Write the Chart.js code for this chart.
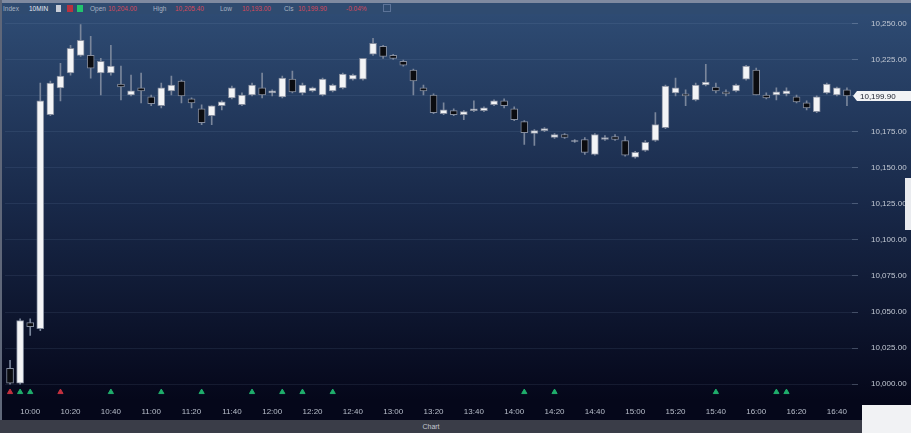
<!DOCTYPE html>
<html><head><meta charset="utf-8">
<script src="https://cdn.jsdelivr.net/npm/chart.js@4.4.1/dist/chart.umd.min.js"></script>
<style>
html,body{margin:0;padding:0;background:#060818;overflow:hidden}
#wrap{position:relative;width:911px;height:433px;font-family:"Liberation Sans","DejaVu Sans",sans-serif}
canvas{position:absolute;left:0;top:0}
.abs{position:absolute}
#topstrip{left:0;top:0;width:911px;height:3px;background:#7f8aa0}
#toolbar{left:0;top:3px;width:911px;height:11px;background:#2f4b70;font-size:6.5px;line-height:11px;white-space:nowrap}
#toolbar span{position:absolute;top:0}
.g{color:#a9b3c4}.w{color:#e6eaf0}.r{color:#d3485c}
#botbar{left:0;top:420px;width:862px;height:13px;background:#3a3d48;color:#c3c7d0;font-size:7px;line-height:13px;text-align:center}
#leftstrip{left:0;top:0;width:2px;height:420px;background:#5f6779}
#whitebox{left:862px;top:405px;width:49px;height:28px;background:#f1f2f4}
#tab{left:905px;top:178px;width:6px;height:52px;background:#e9ebef}
</style></head><body>
<div id="wrap">
<canvas id="c" width="911" height="433"></canvas>
<div class="abs" id="topstrip"></div>
<div class="abs" id="toolbar">
 <span class="g" style="left:3px">Index</span>
 <span class="w" style="left:29px">10MIN</span>
 <span style="left:56px;top:2px;width:5px;height:7px;background:#c9ced8"></span>
 <span style="left:67px;top:2px;width:6px;height:7px;background:#b8323f"></span>
 <span style="left:77px;top:2px;width:6px;height:7px;background:#22c46e"></span>
 <span class="g" style="left:90px">Open</span>
 <span class="r" id="tO" style="left:108px"></span>
 <span class="g" style="left:153px">High</span>
 <span class="r" id="tH" style="left:175px"></span>
 <span class="g" style="left:220px">Low</span>
 <span class="r" id="tL" style="left:242px"></span>
 <span class="g" style="left:284px">Cls</span>
 <span class="r" id="tC" style="left:298px"></span>
 <span class="r" id="tP" style="left:346px"></span>
 <span style="left:383px;top:1px;width:8px;height:8px;border:1px solid #5c7398;box-sizing:border-box"></span>
</div>
<div class="abs" id="leftstrip"></div>
<div class="abs" id="botbar">Chart</div>
<div class="abs" id="whitebox"></div>
<div class="abs" id="tab"></div>
</div>
<script>
// ---- data ----
const categories = ["09:50","09:55","10:00","10:05","10:10","10:15","10:20","10:25","10:30","10:35","10:40","10:45","10:50","10:55",
"11:00","11:05","11:10","11:15","11:20","11:25","11:30","11:35","11:40","11:45","11:50","11:55",
"12:00","12:05","12:10","12:15","12:20","12:25","12:30","12:35","12:40","12:45","12:50","12:55",
"13:00","13:05","13:10","13:15","13:20","13:25","13:30","13:35","13:40","13:45","13:50","13:55",
"14:00","14:05","14:10","14:15","14:20","14:25","14:30","14:35","14:40","14:45","14:50","14:55",
"15:00","15:05","15:10","15:15","15:20","15:25","15:30","15:35","15:40","15:45","15:50","15:55",
"16:00","16:05","16:10","16:15","16:20","16:25","16:30","16:35","16:40","16:45"];
const tickLabels = ["10:00","10:20","10:40","11:00","11:20","11:40","12:00","12:20","12:40","13:00","13:20","13:40",
"14:00","14:20","14:40","15:00","15:20","15:40","16:00","16:20","16:40"];
const open = [10011.0,10000.7,10042.6,10038.5,10186.8,10205.4,10215.7,10228.0,10228.0,10215.7,10215.7,10208.1,10200.5,10205.4,
10199.2,10193.0,10203.3,10210.2,10197.8,10190.9,10186.1,10193.0,10198.5,10193.7,10200.5,10205.4,10201.9,10199.2,10211.5,10201.9,
10203.3,10200.5,10203.3,10205.4,10211.5,10211.5,10228.7,10234.2,10228.0,10223.9,10217.7,10205.4,10200.5,10187.5,10189.6,10186.8,
10189.6,10189.6,10193.7,10196.4,10190.9,10182.0,10173.8,10175.8,10171.0,10173.1,10168.3,10169.6,10159.3,10169.6,10171.7,10168.9,
10157.3,10162.1,10168.9,10177.9,10201.9,10201.2,10197.1,10207.4,10206.0,10202.6,10203.3,10211.5,10217.7,10200.5,10200.5,10201.2,
10199.2,10195.0,10188.9,10201.9,10200.5,10204.0];
const high = [10016.5,10045.3,10045.3,10208.8,10210.2,10222.5,10234.9,10249.3,10241.1,10225.9,10234.9,10220.5,10214.3,10215.7,
10200.5,10208.8,10213.6,10210.8,10198.5,10193.7,10193.0,10196.4,10206.7,10201.9,10208.8,10215.7,10204.0,10213.6,10217.0,10208.8,
10206.0,10212.2,10208.1,10215.7,10215.0,10225.9,10239.7,10234.9,10228.7,10224.6,10218.4,10207.4,10201.2,10195.0,10190.9,10189.6,
10196.4,10192.3,10197.1,10197.8,10192.3,10182.7,10176.5,10177.9,10173.8,10173.8,10169.6,10171.0,10173.8,10172.4,10173.1,10171.7,
10161.4,10168.9,10188.2,10207.4,10212.2,10204.0,10208.8,10221.8,10208.8,10204.0,10208.1,10221.1,10219.1,10201.9,10205.4,10205.4,
10200.5,10196.4,10199.9,10208.8,10206.0,10205.4];
const low = [10000.0,10000.0,10033.7,10037.1,10186.1,10196.4,10214.3,10227.3,10212.2,10200.5,10214.3,10197.1,10199.9,10195.0,
10193.0,10191.6,10200.5,10195.0,10191.6,10179.9,10179.9,10190.2,10197.8,10193.0,10199.9,10198.5,10199.9,10198.5,10201.9,10200.5,
10202.6,10199.9,10202.6,10204.7,10210.8,10210.8,10228.0,10225.9,10225.2,10220.5,10200.5,10200.5,10187.5,10186.8,10186.1,10183.4,
10188.9,10188.9,10193.0,10191.6,10182.7,10166.2,10165.5,10175.1,10170.3,10170.3,10167.6,10159.3,10158.7,10168.9,10168.9,10158.0,
10156.6,10161.4,10168.3,10177.2,10199.9,10193.0,10196.4,10206.7,10201.9,10199.9,10202.6,10210.8,10200.5,10197.8,10197.1,10199.9,
10195.0,10190.2,10188.2,10201.2,10199.9,10193.0];
const close = [10000.7,10044.0,10039.8,10196.4,10208.8,10213.6,10232.8,10238.3,10219.1,10223.9,10220.5,10206.0,10203.3,10203.3,
10194.4,10205.4,10207.4,10199.9,10195.0,10181.3,10193.0,10195.7,10205.4,10200.5,10207.4,10200.5,10203.3,10212.2,10202.6,10207.4,
10205.4,10211.5,10207.4,10215.0,10214.3,10225.9,10236.3,10227.3,10225.9,10221.1,10210.2,10203.3,10188.2,10190.2,10186.8,10188.9,
10190.9,10191.6,10196.4,10193.0,10183.4,10174.4,10175.8,10177.2,10173.1,10171.0,10168.9,10160.7,10173.1,10171.0,10169.6,10158.7,
10160.7,10167.6,10179.9,10206.7,10205.4,10199.9,10207.4,10209.5,10203.3,10201.2,10207.4,10220.5,10200.5,10198.5,10202.6,10203.3,
10195.7,10191.6,10199.2,10208.1,10205.4,10199.9];
const buyMarkers = [1,2,10,15,19,24,27,29,32,51,54,70,76,77];
const sellMarkers = [0,5];
// ---- config ----
const MARK_LEVEL = 9994.5;
const fmt = v => v.toLocaleString('en-US',{minimumFractionDigits:2,maximumFractionDigits:2});
const last = close.length-1;
document.getElementById('tO').textContent = fmt(open[last]);
document.getElementById('tH').textContent = fmt(high[last]);
document.getElementById('tL').textContent = fmt(low[last]);
document.getElementById('tC').textContent = fmt(close[last]);
document.getElementById('tP').textContent = ((close[last]-open[last])/open[last]*100).toFixed(2)+'%';

const bgPlugin = {
  id:'bg',
  beforeDraw(chart){
    const c = chart.ctx;
    const g = c.createLinearGradient(0,14,0,400);
    g.addColorStop(0,'#2e4b73');
    g.addColorStop(0.5,'#182848');
    g.addColorStop(1,'#05071a');
    c.save(); c.fillStyle = g; c.fillRect(0,0,chart.width,chart.height);
    c.fillStyle = '#05071a'; c.fillRect(0,400,chart.width,chart.height-400);
    c.restore();
  },
  afterDraw(chart){
    const c = chart.ctx, ys = chart.scales.y;
    const y = Math.round(ys.getPixelForValue(close[last]));
    const x0 = ys.left + 5;
    c.save();
    c.fillStyle = '#f2f3f5';
    c.beginPath(); c.moveTo(x0-4,y); c.lineTo(x0,y-5); c.lineTo(chart.width,y-5); c.lineTo(chart.width,y+5); c.lineTo(x0,y+5); c.closePath(); c.fill();
    c.fillStyle = '#1a1f2c'; c.font = '8px "Liberation Sans", "DejaVu Sans", sans-serif';
    c.textBaseline = 'middle'; c.fillText(fmt(close[last]), x0+3, y+0.5);
    c.restore();
  }
};

const bodyColors = open.map((o,i)=> close[i] >= o ? '#f3f4f6' : '#0b0c10');
new Chart(document.getElementById('c'), {
  type:'bar',
  data:{
    labels: categories,
    datasets:[
      {label:'wick', data: low.map((l,i)=>[l, high[i]]), backgroundColor:'#7a869b', barThickness:1, grouped:false, order:3},
      {label:'body', data: open.map((o,i)=>[o, close[i]]), backgroundColor: bodyColors, borderColor:'#858d9e', borderWidth:1, borderSkipped:false, barThickness:7, grouped:false, order:2},
      {type:'line', label:'buy', data: categories.map((_,i)=> buyMarkers.includes(i) ? MARK_LEVEL : null), showLine:false, pointStyle:'triangle', pointRadius:3, pointBackgroundColor:'#1fae6c', pointBorderColor:'#1fae6c', order:1},
      {type:'line', label:'sell', data: categories.map((_,i)=> sellMarkers.includes(i) ? MARK_LEVEL : null), showLine:false, pointStyle:'triangle', pointRadius:3, pointBackgroundColor:'#c4313f', pointBorderColor:'#c4313f', order:1}
    ]
  },
  options:{
    responsive:false, animation:false, devicePixelRatio:1,
    layout:{padding:{top:14,left:1,right:0,bottom:13}},
    plugins:{legend:{display:false}, tooltip:{enabled:false}},
    scales:{
      x:{
        grid:{display:false, drawTicks:false}, border:{display:false},
        ticks:{autoSkip:false, maxRotation:0, minRotation:0, padding:7, color:'#b9bfcb',
          font:{size:8, family:'"Liberation Sans", "DejaVu Sans", sans-serif'},
          callback:(v,i)=> { const t = categories[i]; return tickLabels.includes(t) ? t : ''; }},
        afterFit:s=>{ s.height = 20; }
      },
      y:{
        position:'right', min:9989, max:10254,
        grid:{color:'rgba(150,170,210,0.11)', tickColor:'rgba(170,185,210,0.35)', tickLength:6},
        border:{display:false},
        ticks:{stepSize:25, includeBounds:false, padding:13, color:'#c3c9d4',
          font:{size:8, family:'"Liberation Sans", "DejaVu Sans", sans-serif'}, callback:v=>fmt(v)},
        afterBuildTicks:s=>{ s.ticks = s.ticks.filter(t=> Math.abs(t.value % 25) < 1e-6); },
        afterFit:s=>{ s.width = 59; }
      }
    }
  },
  plugins:[bgPlugin]
});
</script>
</body></html>
